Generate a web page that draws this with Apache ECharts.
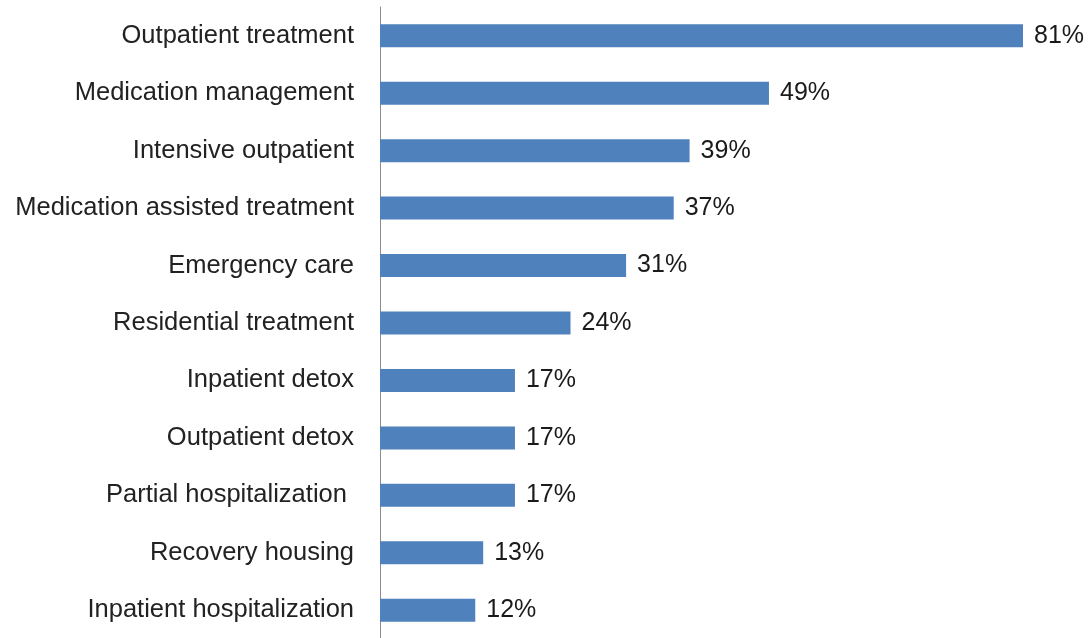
<!DOCTYPE html>
<html>
<head>
<meta charset="utf-8">
<script src="https://cdn.jsdelivr.net/npm/echarts@6/dist/echarts.min.js"></script>
<style>
  html, body { margin: 0; padding: 0; background: #ffffff; }
  #chart { width: 1092px; height: 638px; }
</style>
</head>
<body>
<div id="chart"></div>
<script>
// Services, listed top to bottom
const categories = [
  'Outpatient treatment',
  'Medication management',
  'Intensive outpatient',
  'Medication assisted treatment',
  'Emergency care',
  'Residential treatment',
  'Inpatient detox',
  'Outpatient detox',
  'Partial hospitalization ',
  'Recovery housing',
  'Inpatient hospitalization'
];
// Share of respondents, percent
const shares = [81, 49, 39, 37, 31, 24, 17, 17, 17, 13, 12];

const FONT = '"Liberation Sans", Arial, sans-serif';

const chart = echarts.init(document.getElementById('chart'), null, { renderer: 'canvas' });
chart.setOption({
  animation: false,
  backgroundColor: '#ffffff',
  grid: {
    left: 380, top: 7, width: 643, height: 632,
    containLabel: false,
    outerBoundsMode: 'none'
  },
  xAxis: {
    type: 'value',
    min: 0,
    max: 81,
    show: false
  },
  yAxis: {
    type: 'category',
    data: categories,
    inverse: true,
    axisLine: { show: true, lineStyle: { color: '#8c8c8c', width: 1 } },
    axisTick: { show: false },
    axisLabel: {
      margin: 26,
      fontFamily: FONT,
      fontSize: 25.5,
      color: '#222222'
    }
  },
  series: [{
    type: 'bar',
    data: shares,
    barWidth: 23,
    itemStyle: { color: '#4F81BD' },
    label: {
      show: true,
      position: 'right',
      distance: 11,
      fontFamily: FONT,
      fontSize: 25,
      color: '#1a1a1a',
      formatter: p => p.value + '%'
    }
  }]
});
</script>
</body>
</html>
